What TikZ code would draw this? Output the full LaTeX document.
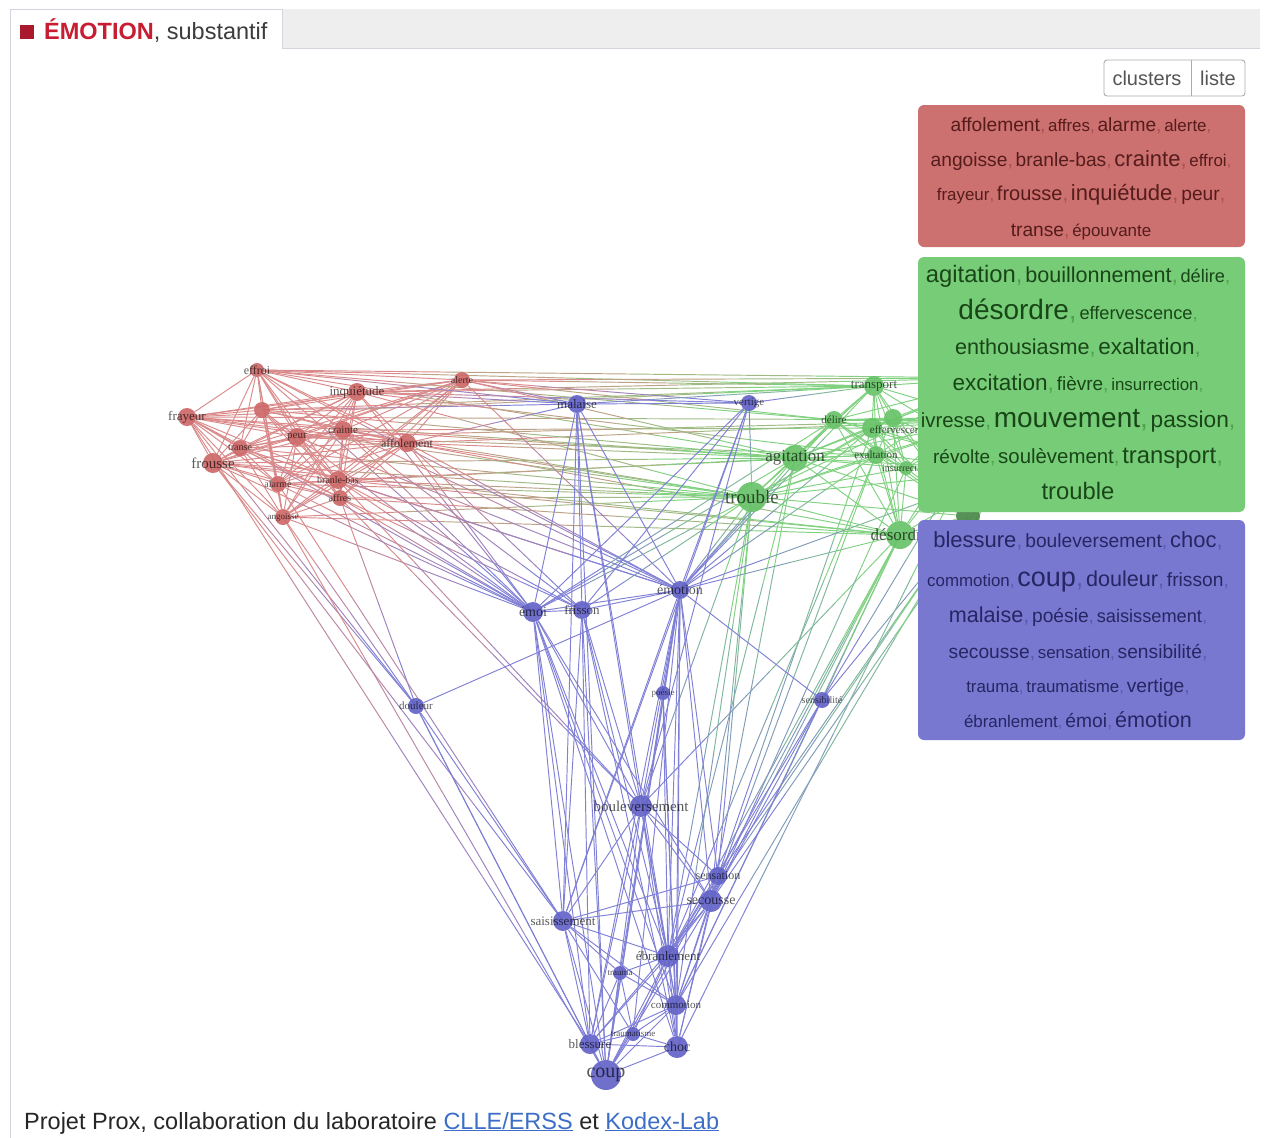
\documentclass[tikz,border=0pt]{standalone}
\usepackage{fontspec}
\setmainfont{Liberation Sans}
\newfontfamily\lser{Liberation Serif}
\usetikzlibrary{calc,backgrounds}
\definecolor{redN}{RGB}{205,105,105}
\definecolor{blueN}{RGB}{100,100,200}
\definecolor{greenN}{RGB}{105,195,105}
\definecolor{redE}{RGB}{218,138,138}
\definecolor{blueE}{RGB}{128,128,215}
\definecolor{greenE}{RGB}{128,210,128}
\definecolor{redB}{RGB}{205,112,112}
\definecolor{greenB}{RGB}{119,204,119}
\definecolor{blueB}{RGB}{120,120,208}
\definecolor{redT}{RGB}{85,28,28}
\definecolor{redC}{RGB}{170,80,80}
\definecolor{greenT}{RGB}{25,70,25}
\definecolor{greenC}{RGB}{80,160,80}
\definecolor{blueT}{RGB}{38,38,100}
\definecolor{blueC}{RGB}{90,90,175}
\definecolor{titleR}{RGB}{200,28,50}
\definecolor{titleG}{RGB}{60,60,60}
\definecolor{tabgray}{RGB}{238,238,238}
\definecolor{tabline}{RGB}{210,214,220}
\definecolor{linkB}{RGB}{60,110,200}
\definecolor{btnT}{RGB}{85,85,85}
\colorlet{commac}{redC}
\newcommand\wrd[2]{{\fontsize{#1}{#1}\selectfont #2}}
\newcommand\cc{\textcolor{commac}{,}}
\newcommand\gedge[4]{%
  \foreach \k in {0,1,2,3}{%
    \pgfmathsetmacro\ta{\k/4}\pgfmathsetmacro\tb{(\k+1)/4}\pgfmathtruncatemacro\pp{100-\k*33}%
    \draw[edgeline, draw=#3!\pp!#4] ($(#1)!\ta!(#2)$) -- ($(#1)!\tb!(#2)$);}}
\tikzset{
  rn/.style={circle, fill=redN, fill opacity=.92, draw=none, inner sep=0, minimum size=#1},
  bn/.style={circle, fill=blueN, fill opacity=.92, draw=none, inner sep=0, minimum size=#1},
  gn/.style={circle, fill=greenN, fill opacity=.92, draw=none, inner sep=0, minimum size=#1},
  nl/.style={font=\lser\fontsize{#1}{#1}\selectfont, text=black, text opacity=.65, inner sep=0},
  edgeline/.style={line width=.95pt},
  re/.style={edgeline, draw=redE},
  be/.style={edgeline, draw=blueE},
  ge/.style={edgeline, draw=greenE},
  boxline/.style={anchor=base, inner sep=0},
}
\begin{document}
\begin{tikzpicture}[x=1pt,y=-1pt]
\useasboundingbox (0,0) rectangle (1267,1138);
% header / tab
\fill[tabgray] (282,9) rectangle (1260,48);
\draw[tabline, line width=1pt] (10,1138) -- (10,9) -- (282,9) -- (282,48) -- (1260,48);
\fill[titleR!85!black] (20,25) rectangle (34,39);
\node[anchor=base west, inner sep=0] (title) at (44,39) {\fontsize{23.5}{23.5}\selectfont\textbf{\textcolor{titleR}{ÉMOTION}}\textcolor{titleG}{, substantif}};

% ---------------- nodes -----------------
% red
\node[rn=14, label={[nl=12]center:effroi}] (ef) at (257,370) {};
\node[rn=18, label={[nl=13]center:frayeur}] (fr) at (187,417) {};
\node[rn=16] (al2) at (262,410) {};
\node[rn=18, label={[nl=13]center:inquiétude}] (inq) at (357,392) {};
\node[rn=16, label={[nl=10]center:alerte}] (ale) at (462,380) {};
\node[rn=18, label={[nl=11]center:peur}] (peu) at (297,437) {};
\node[rn=18, label={[nl=11]center:crainte}] (cra) at (343,430) {};
\node[rn=18, label={[nl=12]center:affolement}] (aff) at (407,443) {};
\node[rn=20, label={[nl=15]center:frousse}] (fro) at (213,463) {};
\node[rn=16, label={[nl=10]center:transe}] (tra) at (240,448) {};
\node[rn=16, label={[nl=10]center:alarme}] (ala) at (278,484) {};
\node[rn=18, label={[nl=10]center:branle-bas}] (bra) at (338,480) {};
\node[rn=16, label={[nl=10]center:affres}] (afs) at (340,498) {};
\node[rn=16, label={[nl=9]center:angoisse}] (ang) at (283,517) {};
% blue
\node[bn=18, label={[nl=13]center:malaise}] (mal) at (577,404) {};
\node[bn=16, label={[nl=11]center:vertige}] (ver) at (749,403) {};
\node[bn=20, label={[nl=14]center:émoi}] (emo) at (533,612) {};
\node[bn=18, label={[nl=13]center:frisson}] (fri) at (582,610) {};
\node[bn=18, label={[nl=14]center:émotion}] (emt) at (680,590) {};
\node[bn=16, label={[nl=11]center:douleur}] (dou) at (416,706) {};
\node[bn=14, label={[nl=9]center:poésie}] (poe) at (663,693) {};
\node[bn=16, label={[nl=10]center:sensibilité}] (sen) at (822,700) {};
\node[bn=22, label={[nl=15]center:bouleversement}] (bou) at (641,806) {};
\node[bn=18, label={[nl=12]center:sensation}] (sna) at (718,876) {};
\node[bn=22, label={[nl=14]center:secousse}] (sec) at (711,901) {};
\node[bn=20, label={[nl=13]center:saisissement}] (sai) at (563,921) {};
\node[bn=22, label={[nl=13]center:ébranlement}] (ebr) at (668,956) {};
\node[bn=14, label={[nl=9]center:trauma}] (trm) at (620,973) {};
\node[bn=20, label={[nl=11]center:commotion}] (com) at (676,1005) {};
\node[bn=14, label={[nl=9]center:traumatisme}] (tmt) at (633,1034) {};
\node[bn=20, label={[nl=13]center:blessure}] (ble) at (590,1044) {};
\node[bn=22, label={[nl=14]center:choc}] (cho) at (677,1047) {};
\node[bn=30, label={[nl=20]center:coup}] (cou) at (606,1075) {};
% green
\node[gn=20, label={[nl=13]center:transport}] (tsp) at (874,386) {};
\node[gn=18, label={[nl=11]center:délire}] (del) at (834,420) {};
\node[gn=20] (eff) at (872,428) {};
\node[nl=11] (effl) at (900,430) {effervescence};
\node[gn=18] (fiv) at (893,418) {};
\node[gn=18, label={[nl=11]center:exaltation}] (exa) at (876,455) {};
\node[gn=14, label={[nl=10]center:insurrection}] (ins) at (906,468) {};
\node[gn=26, label={[nl=17]center:agitation}] (agi) at (795,458) {};
\node[gn=30, label={[nl=19]center:trouble}] (tro) at (752,497) {};
\node[gn=28, label={[nl=17]center:désordre}] (des) at (900,535) {};
\node[gn=18] (gh0) at (1000,378) {};
\node[gn=18] (gh1) at (990,420) {};
\node[gn=18] (gh2) at (1010,470) {};
\node[gn=24, fill=greenN!70!black] (gh3) at (968,516) {};

% ---------------- edges -----------------
\begin{scope}[on background layer]
\fill[white] (0,0) rectangle (1267,1138);
% red complete graph
\foreach \a [count=\n] in {ef,fr,al2,inq,ale,peu,cra,aff,fro,tra,ala,bra,afs,ang}{
  \foreach \b [count=\m] in {ef,fr,al2,inq,ale,peu,cra,aff,fro,tra,ala,bra,afs,ang}{
    \ifnum\m>\n \draw[re] (\a) -- (\b); \fi}}
% green complete graph
\foreach \a [count=\n] in {tsp,del,eff,fiv,exa,ins,agi,tro,des,gh0,gh1,gh2,gh3}{
  \foreach \b [count=\m] in {tsp,del,eff,fiv,exa,ins,agi,tro,des,gh0,gh1,gh2,gh3}{
    \ifnum\m>\n \draw[ge] (\a) -- (\b); \fi}}
% red -> green
\foreach \a/\b in {ef/tsp,ef/gh0,ef/agi,ef/del,fr/tsp,fr/agi,fr/tro,fr/gh1,inq/tsp,inq/gh0,inq/exa,inq/tro,
  ale/tsp,ale/gh0,ale/del,ale/agi,cra/agi,cra/tro,cra/eff,aff/tro,aff/agi,aff/des,aff/gh1,fro/tro,fro/agi,
  fro/des,bra/tro,bra/des,bra/exa,afs/tro,afs/des,ala/tro,ala/agi,peu/gh1,peu/exa,al2/tsp,al2/agi,tra/tro,
  ang/tro,ang/des}{\gedge{\a}{\b}{redE}{greenE}}
% red -> blue
\foreach \a/\b in {ef/mal,ef/emo,ef/emt,inq/mal,inq/emo,inq/ver,ale/mal,ale/ver,ale/emt,cra/emo,cra/emt,
  cra/fri,aff/emo,aff/fri,aff/emt,aff/mal,bra/emo,bra/fri,bra/emt,bra/bou,afs/emo,afs/fri,afs/bou,afs/dou,
  peu/emo,peu/emt,ala/emo,ala/sai,fro/emo,fro/dou,fr/dou,fr/ble,fro/sai,ang/dou,ang/cou,ang/emo,tra/emt,
  al2/mal,fr/emo}{\gedge{\a}{\b}{redE}{blueE}}
% green -> blue
\foreach \a/\b in {tro/emt,tro/emo,tro/fri,tro/bou,tro/ebr,tro/sec,tro/sna,tro/ver,tro/com,agi/emt,agi/ebr,
  agi/sec,agi/emo,des/emt,des/sen,des/sec,des/sna,des/ebr,des/bou,des/com,tsp/ver,tsp/mal,exa/emt,exa/sec,
  eff/sna,ins/sec,del/emt,del/emo,gh1/sen,gh2/sen,gh2/sec,gh3/sna,gh3/ebr,gh2/emt,gh3/com,tsp/emt,eff/emt,
  gh1/cho,exa/ebr}{\gedge{\a}{\b}{greenE}{blueE}}
% blue internal
\foreach \a/\b in {mal/ver,mal/emo,mal/fri,mal/emt,mal/bou,mal/cou,mal/ebr,mal/sai,ver/emt,ver/emo,ver/fri,
  ver/bou,ver/sai,emo/fri,emo/emt,emo/bou,emo/sai,emo/ebr,emo/com,emo/cho,emo/cou,emo/ble,emo/sec,
  fri/emt,fri/bou,fri/sai,fri/ebr,fri/cou,fri/ble,fri/cho,emt/dou,emt/poe,emt/sen,emt/bou,emt/sai,
  emt/ebr,emt/com,emt/cho,emt/cou,emt/ble,emt/sec,emt/sna,emt/trm,emt/tmt,dou/cou,dou/ble,dou/sai,
  poe/ebr,poe/cou,poe/com,poe/cho,sen/sec,sen/ebr,sen/com,bou/sai,bou/sec,bou/sna,bou/ebr,bou/com,
  bou/cho,bou/cou,bou/ble,sna/sai,sna/sec,sna/ebr,sna/com,sna/cho,sna/cou,sec/sai,sec/ebr,sec/com,
  sec/cho,sec/cou,sec/ble,sai/ebr,sai/trm,sai/com,sai/cou,sai/ble,sai/tmt,ebr/com,ebr/cho,ebr/cou,
  ebr/ble,ebr/tmt,ebr/trm,trm/ble,trm/cou,trm/com,trm/tmt,com/cho,com/cou,com/ble,com/tmt,tmt/cou,
  tmt/ble,tmt/cho,ble/cou,ble/cho,cho/cou}{\draw[be] (\a) -- (\b);}
\end{scope}

% ---------------- buttons -----------------
\draw[tabline!80!black, fill=white, rounded corners=3pt, line width=.9pt] (1104,60) rectangle (1245,96);
\draw[tabline!80!black, line width=.9pt] (1191,60) -- (1191,96);
\node[text=btnT, font=\fontsize{20}{20}\selectfont] (bcl) at (1147,78) {clusters};
\node[text=btnT, font=\fontsize{20}{20}\selectfont] (bli) at (1218,78) {liste};

% ---------------- cluster boxes -----------------
\fill[redB, rounded corners=6pt] (918,105) rectangle (1245,247);
\fill[greenB, rounded corners=6pt] (918,257) rectangle (1245,512);
\fill[blueB, rounded corners=6pt] (918,520) rectangle (1245,740);

\begin{scope}[every node/.style={boxline, text=redT}, execute at begin node={\colorlet{commac}{redC}}]
\node (r1) at (1081,131) {\wrd{19.2}{affolement\cc} \wrd{16.9}{affres\cc} \wrd{19.2}{alarme\cc} \wrd{16.9}{alerte\cc}};
\node (r2) at (1081,166) {\wrd{19.2}{angoisse\cc} \wrd{19.2}{branle-bas\cc} \wrd{22}{crainte\cc} \wrd{16.9}{effroi\cc}};
\node (r3) at (1081,200) {\wrd{16.9}{frayeur\cc} \wrd{20}{frousse\cc} \wrd{22}{inquiétude\cc} \wrd{19.2}{peur\cc}};
\node (r4) at (1081,236) {\wrd{19.2}{transe\cc} \wrd{16.9}{épouvante}};
\end{scope}
\begin{scope}[every node/.style={boxline, text=greenT}, execute at begin node={\colorlet{commac}{greenC}}]
\node (g1) at (1078,282) {\wrd{23.8}{agitation\cc} \wrd{21.6}{bouillonnement\cc} \wrd{18.2}{délire\cc}};
\node (g2) at (1078,319) {\wrd{28}{désordre\cc} \wrd{18.2}{effervescence\cc}};
\node (g3) at (1078,354) {\wrd{21.6}{enthousiasme\cc} \wrd{22.5}{exaltation\cc}};
\node (g4) at (1078,390) {\wrd{22.5}{excitation\cc} \wrd{19}{fièvre\cc} \wrd{16.9}{insurrection\cc}};
\node (g5) at (1078,427) {\wrd{20.4}{ivresse\cc} \wrd{28}{mouvement\cc} \wrd{22.7}{passion\cc}};
\node (g6) at (1078,463) {\wrd{19}{révolte\cc} \wrd{20.4}{soulèvement\cc} \wrd{23.8}{transport\cc}};
\node (g7) at (1078,499) {\wrd{23.8}{trouble}};
\end{scope}
\begin{scope}[every node/.style={boxline, text=blueT}, execute at begin node={\colorlet{commac}{blueC}}]
\node (b1) at (1078,547) {\wrd{22}{blessure\cc} \wrd{19.2}{bouleversement\cc} \wrd{22}{choc\cc}};
\node (b2) at (1078,586) {\wrd{16.9}{commotion\cc} \wrd{27}{coup\cc} \wrd{21.6}{douleur\cc} \wrd{19.2}{frisson\cc}};
\node (b3) at (1078,622) {\wrd{21.6}{malaise\cc} \wrd{19.2}{poésie\cc} \wrd{18.2}{saisissement\cc}};
\node (b4) at (1078,658) {\wrd{19.2}{secousse\cc} \wrd{16.9}{sensation\cc} \wrd{19.2}{sensibilité\cc}};
\node (b5) at (1078,692) {\wrd{16.9}{trauma\cc} \wrd{16.9}{traumatisme\cc} \wrd{19.2}{vertige\cc}};
\node (b6) at (1078,727) {\wrd{16.9}{ébranlement\cc} \wrd{19.2}{émoi\cc} \wrd{21.6}{émotion}};
\end{scope}

% ---------------- footer -----------------
\node[anchor=base west, inner sep=0, text=black!85] (foot) at (24,1129) {\fontsize{23.5}{23.5}\selectfont Projet Prox, collaboration du laboratoire \textcolor{linkB}{\underline{CLLE/ERSS}} et \textcolor{linkB}{\underline{Kodex-Lab}}};
\end{tikzpicture}
\end{document}
